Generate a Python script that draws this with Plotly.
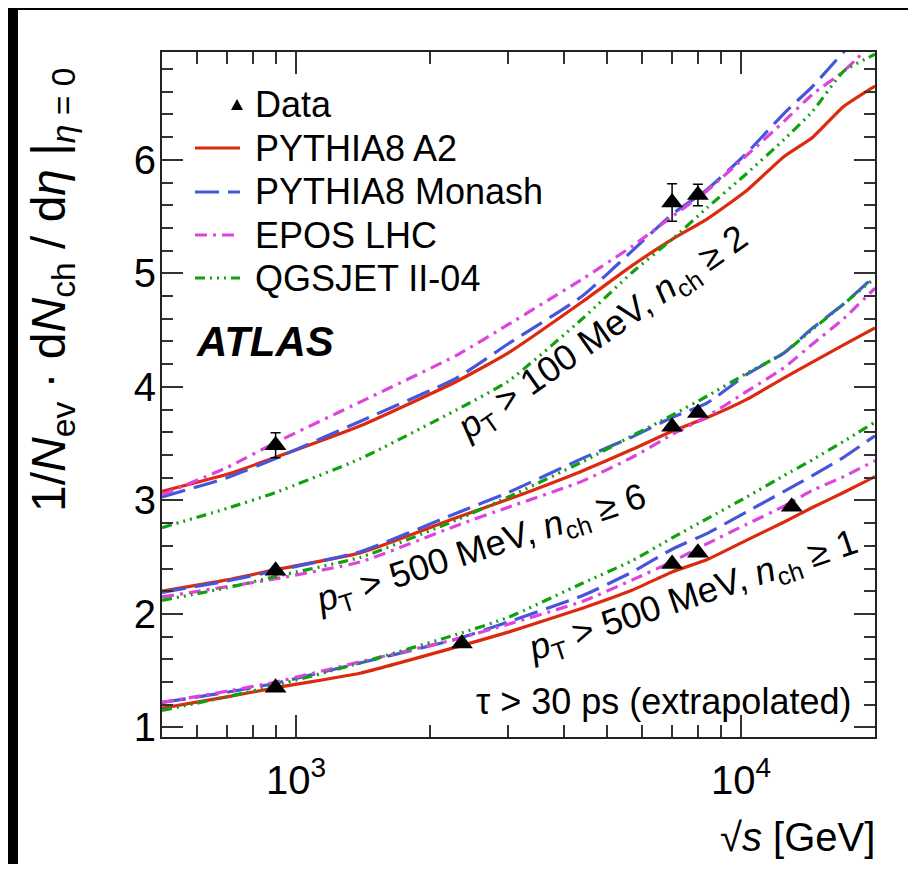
import plotly.graph_objects as go

# ---------------- data ----------------
energies = [500, 700, 900, 1400, 2300, 3000, 4400, 5700, 7000, 8400, 10300, 12500, 14500, 17000, 20000]

# pT > 100 MeV, nch >= 2
a2_top     = [3.08, 3.23, 3.38, 3.66, 4.05, 4.30, 4.75, 5.07, 5.30, 5.48, 5.73, 6.03, 6.20, 6.47, 6.65]
monash_top = [3.03, 3.20, 3.37, 3.70, 4.08, 4.38, 4.80, 5.20, 5.52, 5.74, 6.06, 6.41, 6.65, 6.95, 7.25]
epos_top   = [3.05, 3.29, 3.51, 3.87, 4.28, 4.55, 4.95, 5.24, 5.50, 5.73, 6.04, 6.34, 6.58, 6.78, 7.05]
qgs_top    = [2.76, 2.93, 3.07, 3.37, 3.80, 4.05, 4.60, 5.01, 5.30, 5.58, 5.88, 6.18, 6.43, 6.78, 6.93]

# pT > 500 MeV, nch >= 6
a2_mid     = [2.20, 2.30, 2.39, 2.54, 2.85, 3.01, 3.26, 3.45, 3.61, 3.73, 3.89, 4.08, 4.22, 4.37, 4.52]
monash_mid = [2.19, 2.29, 2.38, 2.55, 2.89, 3.07, 3.37, 3.56, 3.73, 3.86, 4.11, 4.30, 4.52, 4.73, 4.98]
epos_mid   = [2.15, 2.24, 2.31, 2.46, 2.78, 2.94, 3.17, 3.38, 3.58, 3.74, 3.96, 4.17, 4.38, 4.60, 4.87]
qgs_mid    = [2.12, 2.23, 2.33, 2.50, 2.83, 3.03, 3.34, 3.57, 3.75, 3.92, 4.12, 4.30, 4.51, 4.73, 4.96]

# pT > 500 MeV, nch >= 1, tau > 30 ps
a2_bot     = [1.17, 1.27, 1.35, 1.48, 1.71, 1.84, 2.05, 2.21, 2.37, 2.48, 2.65, 2.81, 2.94, 3.07, 3.21]
monash_bot = [1.22, 1.31, 1.39, 1.57, 1.78, 1.93, 2.16, 2.37, 2.57, 2.71, 2.90, 3.08, 3.22, 3.38, 3.57]
epos_bot   = [1.22, 1.32, 1.40, 1.58, 1.78, 1.91, 2.11, 2.30, 2.46, 2.62, 2.79, 2.95, 3.09, 3.21, 3.35]
qgs_bot    = [1.15, 1.27, 1.37, 1.57, 1.82, 1.97, 2.27, 2.47, 2.67, 2.84, 3.03, 3.22, 3.36, 3.52, 3.69]

data_x_top = [900, 7000, 8000]
data_y_top = [3.485, 5.625, 5.69]
data_e_top = [0.11, 0.165, 0.095]
data_x_mid = [900, 7000, 8000]
data_y_mid = [2.38, 3.65, 3.77]
data_x_bot = [900, 2360, 7000, 8000, 13000]
data_y_bot = [1.35, 1.74, 2.44, 2.54, 2.945]

x_tickvals = [1000, 10000]
x_ticktext = ["10<sup>3</sup>", "10<sup>4</sup>"]
x_minor = [600, 700, 800, 900, 2000, 3000, 4000, 5000, 6000, 7000, 8000, 9000]
y_tickvals = [1, 2, 3, 4, 5, 6]

legend_names = ["PYTHIA8 A2", "PYTHIA8 Monash", "EPOS LHC", "QGSJET II-04"]

# ---------------- style ----------------
FONT = "Liberation Sans, Arial, Helvetica, sans-serif"
colors = ["#dc2a0e", "#4656dc", "#dd44dd", "#10a010"]
dashes = ["solid", "24px,9px", "12px,6px,3px,6px", "10px,5px,2px,5px,2px,5px,2px,5px"]
model_groups = [
    [a2_top, a2_mid, a2_bot],
    [monash_top, monash_mid, monash_bot],
    [epos_top, epos_mid, epos_bot],
    [qgs_top, qgs_mid, qgs_bot],
]

fig = go.Figure()
for name, color, dash, groups in zip(legend_names, colors, dashes, model_groups):
    for vals in groups:
        fig.add_trace(go.Scatter(
            x=energies, y=vals, mode="lines", name=name, legendgroup=name,
            showlegend=False,
            line=dict(color=color, width=3.2, dash=dash, shape="spline", smoothing=0.5),
        ))

for dx, dy, de in [
    (data_x_top, data_y_top, data_e_top),
    (data_x_mid, data_y_mid, None),
    (data_x_bot, data_y_bot, None),
]:
    fig.add_trace(go.Scatter(
        x=dx, y=dy, mode="markers", name="Data", legendgroup="data", showlegend=False,
        marker=dict(symbol="triangle-up", size=19, color="black"),
        error_y=(dict(type="data", array=de, color="black", thickness=1.5, width=5)
                 if de is not None else dict(visible=False)),
    ))

# page layout (page body has an 8px margin)
OFF = 8
FW, FH = 900, 856
L, R, T, B = 162 - OFF, 875 - OFF, 52 - OFF, 737 - OFF
W, H = R - L, B - T


def px(page_x):
    return (page_x - OFF - L) / W


def py(page_y):
    return (B - (page_y - OFF)) / H


def txt(text, x, y, size, angle=0, xanchor="center"):
    return dict(text=text, x=px(x), y=py(y), xref="paper", yref="paper", showarrow=False,
                xanchor=xanchor, yanchor="middle", textangle=angle,
                font=dict(size=size, family=FONT, color="black"))


annotations = [
    txt("<b><i>ATLAS</i></b>", 265, 341, 42),
    txt("<i>p</i><sub>T</sub> > 100 MeV, <i>n</i><sub>ch</sub> ≥ 2", 603, 334, 36, -35),
    txt("<i>p</i><sub>T</sub> > 500 MeV, <i>n</i><sub>ch</sub> ≥ 6", 481, 550, 36, -18),
    txt("<i>p</i><sub>T</sub> > 500 MeV, <i>n</i><sub>ch</sub> ≥ 1", 693, 597, 36, -18.5),
    txt("τ > 30 ps (extrapolated)", 663, 701, 36),
    txt("√<i>s</i> [GeV]", 877, 837, 40, xanchor="right"),
    txt("1/<i>N</i><sub>ev</sub> · d<i>N</i><sub>ch</sub> / d<i>η</i> |<sub><i>η</i> = 0</sub>",
        52, 290, 48, -90),
]

# hand-drawn legend (ROOT style)
leg_rows = [148, 192, 235, 278]
annotations.append(txt("Data", 253, 104, 36, xanchor="left"))
for name, yrow in zip(legend_names, leg_rows):
    annotations.append(txt(name, 253, yrow, 36, xanchor="left"))

shapes = [
    dict(type="rect", xref="paper", yref="paper", x0=px(OFF), x1=px(18), y0=py(872 - OFF), y1=py(OFF),
         fillcolor="black", line=dict(width=0), layer="above"),
    dict(type="rect", xref="paper", yref="paper", x0=px(OFF), x1=px(916 - OFF), y0=py(10), y1=py(OFF),
         fillcolor="black", line=dict(width=0), layer="above"),
    dict(type="path", xref="paper", yref="paper",
         path="M{:.5f},{:.5f} L{:.5f},{:.5f} L{:.5f},{:.5f} Z".format(
             px(231), py(110), px(243), py(110), px(237), py(99)),
         fillcolor="black", line=dict(width=0), layer="above"),
]
for color, dash, yrow in zip(colors, dashes, leg_rows):
    shapes.append(dict(type="line", xref="paper", yref="paper", x0=px(195), x1=px(240),
                       y0=py(yrow), y1=py(yrow), line=dict(color=color, width=3.2, dash=dash),
                       layer="above"))

axis_common = dict(
    showline=True, linecolor="#222", linewidth=2, mirror="allticks",
    ticks="inside", tickcolor="#333", tickwidth=1.5,
    showgrid=False, zeroline=False,
    tickfont=dict(size=40, family=FONT, color="black"),
)

fig.update_layout(
    width=FW, height=FH, autosize=False, showlegend=False,
    margin=dict(l=L, r=FW - R, t=T, b=FH - B, pad=0),
    paper_bgcolor="white", plot_bgcolor="white",
    font=dict(family=FONT, color="black"),
    xaxis=dict(type="log", range=[2.69897, 4.30103], tickmode="array",
               tickvals=x_tickvals, ticktext=x_ticktext, ticklen=22, ticklabelstandoff=7,
               minor=dict(tickmode="array", tickvals=x_minor, ticks="inside",
                          ticklen=12, tickcolor="#333", tickwidth=1.5),
               **axis_common),
    yaxis=dict(range=[0.916, 6.95], tickmode="array", tickvals=y_tickvals, ticklen=21,
               ticklabelstandoff=-4,
               minor=dict(dtick=0.2, ticks="inside", ticklen=11, tickcolor="#333", tickwidth=1.5),
               **axis_common),
    annotations=annotations,
    shapes=shapes,
)

fig.write_html("out.html")
